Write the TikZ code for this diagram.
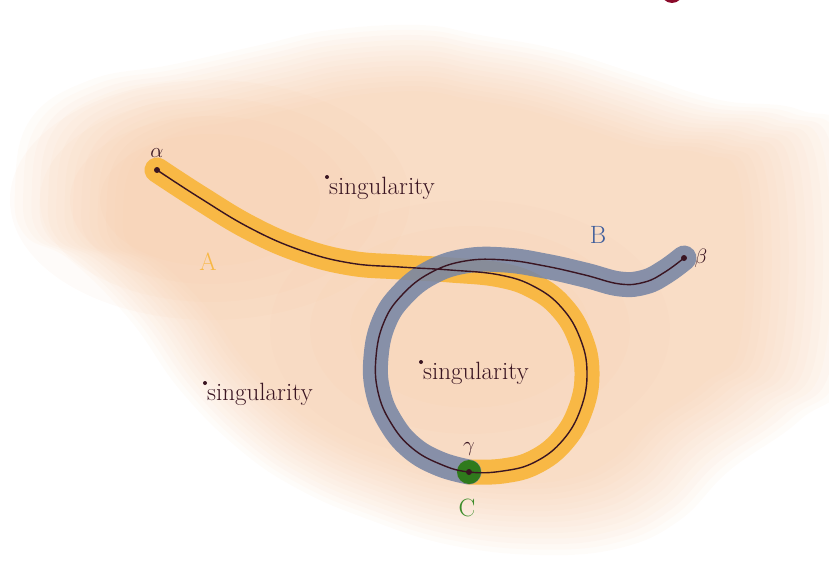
\documentclass[tikz,border=0pt]{standalone}
\usetikzlibrary{positioning}
\definecolor{peach}{HTML}{F3BD92}
\definecolor{bandyellow}{HTML}{F8B845}
\definecolor{bandblue}{HTML}{7886A5}
\definecolor{dotgreen}{HTML}{2F7A1C}
\definecolor{ink}{HTML}{3A1522}
\definecolor{labelblue}{HTML}{3F5E9C}
\definecolor{labelgreen}{HTML}{3C8C2A}
\definecolor{wine}{HTML}{8A0A2A}
\tikzstyle{band}=[line width=25pt, line cap=round, line join=round]
\tikzstyle{trace}=[draw=ink, line width=1.4pt]
\tikzstyle{point}=[circle, fill=ink, inner sep=0pt, minimum size=6pt]
\tikzstyle{pole}=[circle, fill=ink, inner sep=0pt, minimum size=4pt]
\tikzstyle{every node}=[font=\fontsize{20}{24}\selectfont]
\tikzstyle{letter}=[font=\fontsize{25}{30}\selectfont]
\tikzstyle{remark}=[anchor=north west, inner sep=0pt, text=ink, font=\fontsize{25}{30}\selectfont]
\newcommand{\blobpath}{plot[smooth cycle, tension=0.7] coordinates {(15,190) (30,120) (90,80) (170,65) (260,45) (330,30) (420,25) (480,35) (560,50) (640,75) (720,100) (800,110) (850,150) (850,360) (800,420) (730,470) (680,520) (620,548) (540,555) (450,545) (370,520) (300,490) (240,450) (180,390) (130,320) (70,260) (25,235)}}

\begin{document}
\begin{tikzpicture}[x=1pt, y=-1pt]
    \useasboundingbox (0,0) rectangle (829,567);
    \clip (0,0) rectangle (829,567);
    % watercolour wash
    \foreach \s in {1.00,0.98,...,0.73}
        \fill[peach, opacity=0.05, scale around={\s:(430,280)}] \blobpath;
    \foreach \s in {1.0,0.85,0.7,0.55}
        \fill[peach, opacity=0.06, scale around={\s:(210,200)}] (210,200) ellipse [x radius=200pt, y radius=120pt];
    \foreach \s in {1.0,0.8,0.6}
        \fill[peach, opacity=0.05, scale around={\s:(470,330)}] (470,330) ellipse [x radius=200pt, y radius=130pt];
    \fill[wine] (672,-8) circle [radius=11pt];

    \coordinate (alpha) at (157,170);
    \coordinate (beta) at (684,258);
    \coordinate (gamma) at (469,472);

    % bands
    \draw[band, bandyellow] plot[smooth, tension=0.7] coordinates {(157,170) (200,198) (250,228) (300,250) (350,263) (400,267) (450,270) (500,275) (535,287) (562,308) (580,338) (587,372) (581,408) (563,440) (535,462) (503,471) (469,472)};
    \draw[band, bandblue, opacity=0.88] plot[smooth, tension=0.7] coordinates {(469,472) (440,464) (412,448) (391,423) (378,392) (376,357) (384,322) (402,295) (430,273) (465,261) (505,260) (545,266) (585,275) (620,284) (645,282) (665,272) (684,258)};
    \fill[dotgreen] (gamma) circle [radius=12pt];

    % path
    \draw[trace] plot[smooth, tension=0.7] coordinates {(157,170) (200,198) (250,228) (300,250) (350,263) (400,267) (450,270) (500,275) (535,287) (562,308) (580,338) (587,372) (581,408) (563,440) (535,462) (503,471) (469,472) (440,464) (412,448) (391,423) (378,392) (376,357) (384,322) (402,295) (430,273) (465,261) (505,260) (545,266) (585,275) (620,284) (645,282) (665,272) (684,258)};

    \node[point] (a) at (alpha) {};
    \node[point] (b) at (beta) {};
    \node[point] (c) at (gamma) {};
    \node[above=6pt of a, text=ink] (la) {$\alpha$};
    \node[right=4pt of b, text=ink] (lb) {$\beta$};
    \node[above=10pt of c, text=ink] (lc) {$\gamma$};

    \node[letter, text=bandyellow] (A) at (208,262) {A};
    \node[letter, text=labelblue] (B) at (598,235) {B};
    \node[letter, text=labelgreen] (C) at (467,508) {C};

    % singularities
    \node[pole] (s1) at (327,177) {};
    \node[pole] (s2) at (421,362) {};
    \node[pole] (s3) at (205,383) {};
    \node[remark] at ([xshift=2pt]s1.center) {singularity};
    \node[remark] at ([xshift=2pt]s2.center) {singularity};
    \node[remark] at ([xshift=2pt]s3.center) {singularity};
\end{tikzpicture}
\end{document}
